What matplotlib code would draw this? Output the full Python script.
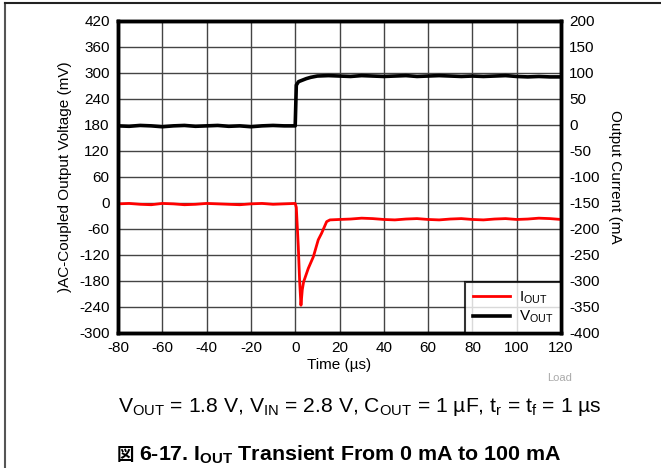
import matplotlib
matplotlib.use("Agg")
import matplotlib.pyplot as plt
from matplotlib.lines import Line2D

plt.rcParams["font.family"] = ["Liberation Sans", "DejaVu Sans"]
plt.rcParams["axes.unicode_minus"] = False
plt.rcParams["mathtext.fontset"] = "custom"
plt.rcParams["mathtext.rm"] = "Liberation Sans"
plt.rcParams["mathtext.bf"] = "Liberation Sans:bold"
plt.rcParams["mathtext.it"] = "Liberation Sans:italic"

# red trace (legend: I_OUT), left axis, mV
t_red = [-80, -75, -70, -65, -60, -55, -50, -45, -40, -35, -30, -25, -20, -15, -10, -5, 0,
         0.5, 1.4, 2.0, 2.6, 3.2, 3.8, 5.9, 8.2, 10.4, 11.9, 14.2, 15.7,
         20, 25, 30, 35, 40, 45, 50, 55, 60, 65, 70, 75, 80, 85, 90, 95, 100, 105, 110, 115, 120]
v_red = [-2, -1, -3, -4, -1, -2, -4, -3, -1, -2, -3, -4, -2, -1, -3, -2, -1,
         -10, -101, -180, -236, -200, -182, -151, -124, -85, -70, -43, -39,
         -38, -37, -35, -36, -38, -39, -37, -36, -38, -39, -37, -36, -38, -39, -37, -36, -38, -37, -35, -36, -38]

# black trace (legend: V_OUT), left axis, mV
t_blk = [-80, -75, -70, -65, -60, -55, -50, -45, -40, -35, -30, -25, -20, -15, -10, -5, 0,
         0.5, 1.5, 3, 5, 7, 10, 15, 20, 25, 30, 35, 40, 45, 50, 55, 60, 65, 70, 75, 80,
         85, 90, 95, 100, 105, 110, 115, 120]
v_blk = [178, 177, 179, 178, 176, 178, 179, 177, 178, 179, 177, 178, 176, 178, 179, 178, 178,
         272, 280, 283, 287, 290, 293, 294, 293, 292, 294, 293, 292, 293, 294, 292, 293, 294, 293, 292, 293,
         292, 293, 294, 292, 291, 292, 291, 291]

left_ticks = list(range(-300, 421, 60))
right_ticks = list(range(-400, 201, 50))
x_ticks = list(range(-80, 121, 20))

fig = plt.figure(figsize=(6.61, 4.68), dpi=100)
ax = fig.add_axes([118 / 661, 1 - 333 / 468, 443 / 661, 312 / 468])

ax.plot(t_red, v_red, color="#ff0000", lw=2, label=r"I$_{\rm OUT}$", zorder=3)
ax.plot(t_blk, v_blk, color="black", lw=2.6, label=r"V$_{\rm OUT}$", zorder=3)

ax.set_xlim(-80, 120)
ax.set_ylim(-300, 420)
ax.set_xticks(x_ticks)
ax.set_yticks(left_ticks)
ax.grid(True, color="#444444", lw=1)
ax.tick_params(length=0, labelsize=11, pad=6)
for s in ax.spines.values():
    s.set_linewidth(2.5)
ax.set_xlabel("Time (µs)", fontsize=11, labelpad=2)
ax.set_ylabel(")AC-Coupled Output Voltage (mV)", fontsize=11, labelpad=5)

ax2 = ax.twinx()
ax2.set_ylim(-400, 200)
ax2.set_yticks(right_ticks)
ax2.tick_params(length=0, labelsize=11, pad=6)
for s in ax2.spines.values():
    s.set_linewidth(2.5)
ax2.set_ylabel("Output Current (mA", fontsize=11, rotation=-90, labelpad=16)

leg = ax.legend(loc="lower right", fontsize=11, frameon=True, fancybox=False,
                borderaxespad=0, handlelength=2.4, handletextpad=0.6,
                borderpad=0.5, labelspacing=0.2)
leg.get_frame().set_edgecolor("black")
leg.get_frame().set_linewidth(1.5)
leg.set_zorder(5)

fig.text(560 / 661, 1 - 378 / 468, "Load", fontsize=8, color="#aaaaaa", ha="center", va="center")

fig.text(359.5 / 661, 1 - 407 / 468,
         r"V$_{\rm OUT}$ = 1.8 V, V$_{\rm IN}$ = 2.8 V, C$_{\rm OUT}$ = 1 µF, t$_{\rm r}$ = t$_{\rm f}$ = 1 µs",
         fontsize=15.2, ha="center", va="center")

fig.text(117 / 661, 1 - 455 / 468, "図", fontsize=12.5, fontweight="bold",
         family=["Noto Sans CJK JP"], ha="left", va="center")
fig.text(139 / 661, 1 - 455 / 468, r"6-17. I$_{\bf OUT}$ Transient From 0 mA to 100 mA",
         fontsize=15.4, fontweight="bold", ha="left", va="center")

# page frame
fig.add_artist(Line2D([5 / 661, 5 / 661], [0, 1 - 3 / 468], color="#555555", lw=1.5))
fig.add_artist(Line2D([5 / 661, 1], [1 - 3 / 468, 1 - 3 / 468], color="#222222", lw=1.5))

fig.savefig("out.png", dpi=100)
